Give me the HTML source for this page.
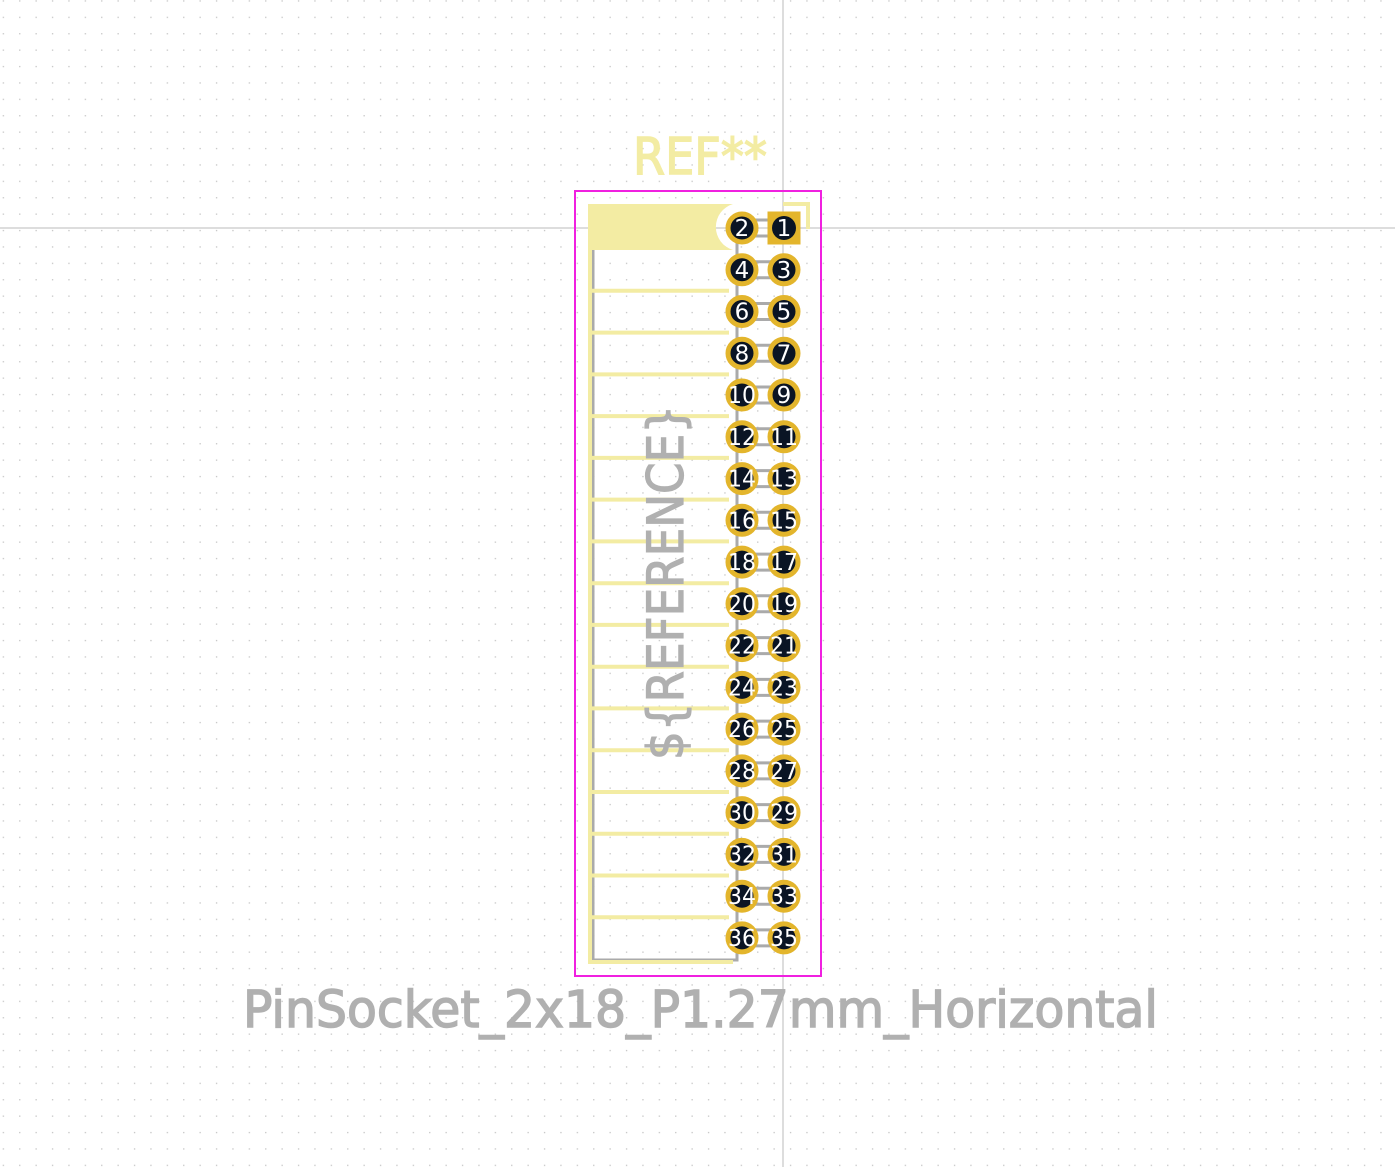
<!DOCTYPE html>
<html><head><meta charset="utf-8"><style>
html,body{margin:0;padding:0;background:#fff;}
svg{display:block;}
.n{font-family:"DejaVu Sans","Liberation Sans",sans-serif;fill:#fff;font-size:23px;text-anchor:middle;}
</style></head><body>
<svg width="1395" height="1167" viewBox="0 0 1395 1167" xmlns="http://www.w3.org/2000/svg">
<defs>
<pattern id="g" x="2.7" y="0.3" width="16.4" height="16.4" patternUnits="userSpaceOnUse">
<rect x="0" y="0" width="1.3" height="1.3" fill="#c4c4c4"/>
</pattern>
<g id="row">
<line x1="742" y1="-8" x2="784" y2="-8" stroke="#aaa" stroke-width="3"/>
<line x1="742" y1="8" x2="784" y2="8" stroke="#aaa" stroke-width="3"/>
<circle cx="742" cy="0" r="14" fill="#0a1424" stroke="#e3b52c" stroke-width="5"/>
<circle cx="784" cy="0" r="14" fill="#0a1424" stroke="#e3b52c" stroke-width="5"/>
</g>
</defs>
<rect width="1395" height="1167" fill="url(#g)"/>
<line x1="783" y1="0" x2="783" y2="1167" stroke="#bbb" stroke-width="1"/>
<line x1="0" y1="228" x2="1395" y2="228" stroke="#bbb" stroke-width="1"/>

<path d="M593 250 V960 H737 V222" fill="none" stroke="#aaa" stroke-width="3"/>
<path d="M589 204 H733 A24 24 0 0 0 733 250 H589 Z" fill="#f3eca3"/>
<path d="M590 204 V962 H733" fill="none" stroke="#f3eca3" stroke-width="4"/>
<g stroke="#f3eca3" stroke-width="4">
<line x1="592" y1="290.8" x2="729" y2="290.8"/>
<line x1="592" y1="332.6" x2="729" y2="332.6"/>
<line x1="592" y1="374.4" x2="729" y2="374.4"/>
<line x1="592" y1="416.1" x2="729" y2="416.1"/>
<line x1="592" y1="457.9" x2="729" y2="457.9"/>
<line x1="592" y1="499.6" x2="729" y2="499.6"/>
<line x1="592" y1="541.4" x2="729" y2="541.4"/>
<line x1="592" y1="583.2" x2="729" y2="583.2"/>
<line x1="592" y1="624.9" x2="729" y2="624.9"/>
<line x1="592" y1="666.7" x2="729" y2="666.7"/>
<line x1="592" y1="708.4" x2="729" y2="708.4"/>
<line x1="592" y1="750.2" x2="729" y2="750.2"/>
<line x1="592" y1="792.0" x2="729" y2="792.0"/>
<line x1="592" y1="833.7" x2="729" y2="833.7"/>
<line x1="592" y1="875.5" x2="729" y2="875.5"/>
<line x1="592" y1="917.2" x2="729" y2="917.2"/>
</g>
<path d="M783 204 H808 V229" fill="none" stroke="#f3eca3" stroke-width="4"/>

<use href="#row" y="228"/><use href="#row" y="269.8"/><use href="#row" y="311.5"/><use href="#row" y="353.3"/>
<use href="#row" y="395"/><use href="#row" y="436.8"/><use href="#row" y="478.6"/><use href="#row" y="520.3"/>
<use href="#row" y="562.1"/><use href="#row" y="603.8"/><use href="#row" y="645.6"/><use href="#row" y="687.4"/>
<use href="#row" y="729.1"/><use href="#row" y="770.9"/><use href="#row" y="812.6"/><use href="#row" y="854.4"/>
<use href="#row" y="896.2"/><use href="#row" y="937.9"/>
<rect x="767.5" y="211.5" width="33" height="33" fill="#e3b52c"/>
<circle cx="784" cy="228" r="12" fill="#0a1424"/>

<g class="n">
<text x="742" y="236">2</text><text x="784" y="236">1</text>
<text x="742" y="277.8">4</text><text x="784" y="277.8">3</text>
<text x="742" y="319.5">6</text><text x="784" y="319.5">5</text>
<text x="742" y="361.3">8</text><text x="784" y="361.3">7</text>
<text x="742" y="403" textLength="28" lengthAdjust="spacingAndGlyphs">10</text><text x="784" y="403">9</text>
<text x="742" y="444.8" textLength="28" lengthAdjust="spacingAndGlyphs">12</text><text x="784" y="444.8" textLength="28" lengthAdjust="spacingAndGlyphs">11</text>
<text x="742" y="486.6" textLength="28" lengthAdjust="spacingAndGlyphs">14</text><text x="784" y="486.6" textLength="28" lengthAdjust="spacingAndGlyphs">13</text>
<text x="742" y="528.3" textLength="28" lengthAdjust="spacingAndGlyphs">16</text><text x="784" y="528.3" textLength="28" lengthAdjust="spacingAndGlyphs">15</text>
<text x="742" y="570.1" textLength="28" lengthAdjust="spacingAndGlyphs">18</text><text x="784" y="570.1" textLength="28" lengthAdjust="spacingAndGlyphs">17</text>
<text x="742" y="611.8" textLength="28" lengthAdjust="spacingAndGlyphs">20</text><text x="784" y="611.8" textLength="28" lengthAdjust="spacingAndGlyphs">19</text>
<text x="742" y="653.6" textLength="28" lengthAdjust="spacingAndGlyphs">22</text><text x="784" y="653.6" textLength="28" lengthAdjust="spacingAndGlyphs">21</text>
<text x="742" y="695.4" textLength="28" lengthAdjust="spacingAndGlyphs">24</text><text x="784" y="695.4" textLength="28" lengthAdjust="spacingAndGlyphs">23</text>
<text x="742" y="737.1" textLength="28" lengthAdjust="spacingAndGlyphs">26</text><text x="784" y="737.1" textLength="28" lengthAdjust="spacingAndGlyphs">25</text>
<text x="742" y="778.9" textLength="28" lengthAdjust="spacingAndGlyphs">28</text><text x="784" y="778.9" textLength="28" lengthAdjust="spacingAndGlyphs">27</text>
<text x="742" y="820.6" textLength="28" lengthAdjust="spacingAndGlyphs">30</text><text x="784" y="820.6" textLength="28" lengthAdjust="spacingAndGlyphs">29</text>
<text x="742" y="862.4" textLength="28" lengthAdjust="spacingAndGlyphs">32</text><text x="784" y="862.4" textLength="28" lengthAdjust="spacingAndGlyphs">31</text>
<text x="742" y="904.2" textLength="28" lengthAdjust="spacingAndGlyphs">34</text><text x="784" y="904.2" textLength="28" lengthAdjust="spacingAndGlyphs">33</text>
<text x="742" y="945.9" textLength="28" lengthAdjust="spacingAndGlyphs">36</text><text x="784" y="945.9" textLength="28" lengthAdjust="spacingAndGlyphs">35</text>
</g>

<rect x="575" y="191" width="246" height="785" fill="none" stroke="#f020e0" stroke-width="2"/>

<text x="633" y="174" textLength="134" lengthAdjust="spacingAndGlyphs" font-family="DejaVu Sans, Liberation Sans, sans-serif" font-size="51" fill="#f3eca3" stroke="#f3eca3" stroke-width="1.5">REF**</text>
<text transform="translate(683,760) rotate(-90)" x="0" y="0" textLength="355" lengthAdjust="spacingAndGlyphs" font-family="DejaVu Sans, Liberation Sans, sans-serif" font-size="50" fill="#b0b0b0" stroke="#b0b0b0" stroke-width="1.2">${REFERENCE}</text>
<text x="243" y="1027" textLength="915" lengthAdjust="spacingAndGlyphs" font-family="DejaVu Sans, Liberation Sans, sans-serif" font-size="51" fill="#b0b0b0" stroke="#b0b0b0" stroke-width="1.5">PinSocket_2x18_P1.27mm_Horizontal</text>
</svg>
</body></html>
